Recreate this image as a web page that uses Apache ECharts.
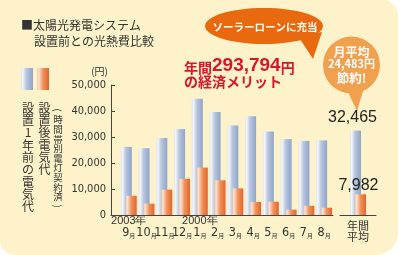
<!DOCTYPE html>
<html><head><meta charset="utf-8">
<script src="https://cdn.jsdelivr.net/npm/echarts@6/dist/echarts.min.js"></script>
<style>html,body{margin:0;padding:0;background:#fff}#c{width:400px;height:255px}</style>
</head><body><div id="c"></div>
<script>
const monthNums = ['9','10','11','12','1','2','3','4','5','6','7','8'];
const yearLabels = ['2003年','','','','2000年','','','','','','',''];
const monthPos = [1,2,3,4,5,6,7,8,9,10,11,12];
const before = [26200,25700,29600,33100,44700,39600,34400,38000,32100,29200,28500,28700];
const after  = [7400,4350,9750,13900,18250,13350,10250,5000,5100,2050,3550,2800];
const avgCategory = ['年間\n平均'];
const avgBefore = [32465];
const avgAfter = [7982];
const yTicks = [0,10000,20000,30000,40000,50000];

const JP = "'Noto Sans CJK JP',sans-serif";
const COND = "'DejaVu Sans Condensed','Liberation Sans',sans-serif";
const SANS = "'Liberation Sans',Arial,sans-serif";
const TXT = '#333';

const blueGrad = new echarts.graphic.LinearGradient(0,0,1,0,[
  {offset:0,color:'#dde4f0'},{offset:0.15,color:'#f3f5fa'},{offset:0.45,color:'#b8c6df'},{offset:1,color:'#8fa4c9'}]);
const orangeGrad = new echarts.graphic.LinearGradient(0,0,1,0,[
  {offset:0,color:'#f5c4a4'},{offset:0.15,color:'#fbe2d0'},{offset:0.5,color:'#f0935c'},{offset:1,color:'#e6622a'}]);

const fmt = v => v.toLocaleString('en-US');
const vert = s => Array.from(s).join('\n');

const chart = echarts.init(document.getElementById('c'), null, {renderer:'canvas'});
chart.setOption({
  backgroundColor:'#ffffff',
  animation:false,
  grid:[
    {left:111, top:85, width:222, height:130},
    {left:340, top:85, width:36, height:130}
  ],
  xAxis:[
    {type:'value', gridIndex:0, min:0, max:12.5, interval:1,
     axisLine:{show:true, lineStyle:{color:'#444', width:1}},
     axisTick:{show:false}, splitLine:{show:false},
     axisLabel:{margin:1, showMinLabel:true, showMaxLabel:true,
       formatter: v => {
         const i = monthPos.indexOf(v);
         if (i < 0) return '';
         return '{y|' + (yearLabels[i] || ' ') + '}\n{n|' + monthNums[i] + '}{m|月}';
       },
       rich:{
         y:{fontSize:11, lineHeight:10, color:TXT, fontFamily:SANS},
         n:{fontSize:12.5, lineHeight:13, color:TXT, fontFamily:COND},
         m:{fontSize:6, lineHeight:13, color:TXT, fontFamily:JP, verticalAlign:'bottom'}
       }}},
    {type:'category', gridIndex:1, data:avgCategory,
     axisLine:{show:true, lineStyle:{color:'#444', width:1}},
     axisTick:{show:false},
     axisLabel:{margin:5, fontSize:11, lineHeight:11, color:TXT, fontFamily:JP}}
  ],
  yAxis:[
    {type:'value', gridIndex:0, min:yTicks[0], max:yTicks[yTicks.length-1], interval:10000,
     name:'(円)', nameLocation:'end', nameGap:9,
     nameTextStyle:{fontSize:10, color:TXT, fontFamily:JP, align:'right', padding:[0,3,0,0]},
     axisLine:{show:true, lineStyle:{color:'#444', width:1}},
     axisTick:{show:true, inside:true, length:4, lineStyle:{color:'#444'}},
     splitLine:{show:false},
     axisLabel:{margin:5, fontSize:11, color:TXT, fontFamily:COND, formatter: v => fmt(v)}},
    {type:'value', gridIndex:1, min:0, max:50000, show:false, splitLine:{show:false}}
  ],
  series:[
    {type:'bar', xAxisIndex:0, yAxisIndex:0, barWidth:11, barGap:'-55%',
     data: before.map((v,i)=>[monthPos[i], v]), itemStyle:{color:blueGrad}},
    {type:'bar', xAxisIndex:0, yAxisIndex:0, barWidth:11, barGap:'-55%',
     data: after.map((v,i)=>[monthPos[i], v]), itemStyle:{color:orangeGrad}},
    {type:'bar', xAxisIndex:1, yAxisIndex:1, barWidth:11, barGap:'-55%',
     data: avgBefore, itemStyle:{color:blueGrad},
     label:{show:true, position:'top', distance:5, offset:[-3,0], fontSize:16, color:'#222', fontFamily:SANS,
       formatter: p => fmt(p.value)}},
    {type:'bar', xAxisIndex:1, yAxisIndex:1, barWidth:11, barGap:'-55%',
     data: avgAfter, itemStyle:{color:orangeGrad},
     label:{show:true, position:'top', distance:1, offset:[-2,0], fontSize:16, color:'#222', fontFamily:SANS,
       formatter: p => fmt(p.value)}}
  ],
  graphic:[
    {type:'rect', z:-10, silent:true, shape:{x:0, y:0, width:398, height:255, r:[0,15,22,15]},
     style:{fill:'#fdf2c9'}},
    {type:'text', x:21, y:19, style:{text:'■太陽光発電システム', font:'12px ' + JP, fill:TXT}},
    {type:'text', x:34, y:35, style:{text:'設置前との光熱費比較', font:'12px ' + JP, fill:TXT}},
    {type:'rect', shape:{x:21, y:68, width:12, height:22}, style:{fill:blueGrad}},
    {type:'rect', shape:{x:37, y:68, width:12, height:22}, style:{fill:orangeGrad}},
    {type:'text', x:28, y:102, style:{text:vert('設置1年前の電気代'), font:'12px ' + JP, lineHeight:12.3, align:'center', fill:TXT}},
    {type:'text', x:44.5, y:102, style:{text:vert('設置後電気代'), font:'12px ' + JP, lineHeight:12.3, align:'center', fill:TXT}},
    {type:'text', x:58, y:110, rotation:-Math.PI/2, style:{text:'(', font:'9.5px ' + JP, align:'center', verticalAlign:'middle', fill:TXT}},
    {type:'text', x:58, y:115, style:{text:vert('時間帯別電灯契約済'), font:'9.5px ' + JP, lineHeight:9.6, align:'center', fill:TXT}},
    {type:'text', x:58, y:206, rotation:-Math.PI/2, style:{text:')', font:'9.5px ' + JP, align:'center', verticalAlign:'middle', fill:TXT}},
    {type:'text', x:184, y:56, style:{
      text:'{a|年間}{b|293,794}{a|円}',
      rich:{a:{font:'bold 14px ' + JP, fill:'#d7182a', verticalAlign:'bottom', lineHeight:19},
            b:{font:'bold 19px ' + SANS, fill:'#d7182a', verticalAlign:'bottom', lineHeight:19}}}},
    {type:'text', x:184, y:75, style:{text:'の経済メリット', font:'bold 14px ' + JP, fill:'#d7182a'}},
    {type:'polygon', shape:{points:[[298,36],[322,32],[313,59]]}, style:{fill:'#e8690e'}},
    {type:'ellipse', shape:{cx:264, cy:26, rx:59, ry:18}, style:{fill:'#e8690e'}},
    {type:'text', x:265, y:27, style:{text:'ソーラーローンに充当', font:'bold 10.5px ' + JP, fill:'#fff', align:'center', verticalAlign:'middle'}},
    {type:'polygon', shape:{points:[[346,88],[364,88],[357,111]]}, style:{fill:'#f1a04e'}},
    {type:'circle', shape:{cx:351.5, cy:65, r:28.5}, style:{fill:'#f1a04e'}},
    {type:'text', x:351.5, y:52, style:{text:'月平均', font:'bold 12px ' + JP, fill:'#fff', align:'center', verticalAlign:'middle'}},
    {type:'text', x:351.5, y:64, style:{text:'24,483円', font:'bold 11px ' + JP, fill:'#fff', align:'center', verticalAlign:'middle'}},
    {type:'text', x:351.5, y:78, style:{text:'節約!', font:'bold 12.5px ' + JP, fill:'#fff', align:'center', verticalAlign:'middle'}}
  ]
});
</script></body></html>
